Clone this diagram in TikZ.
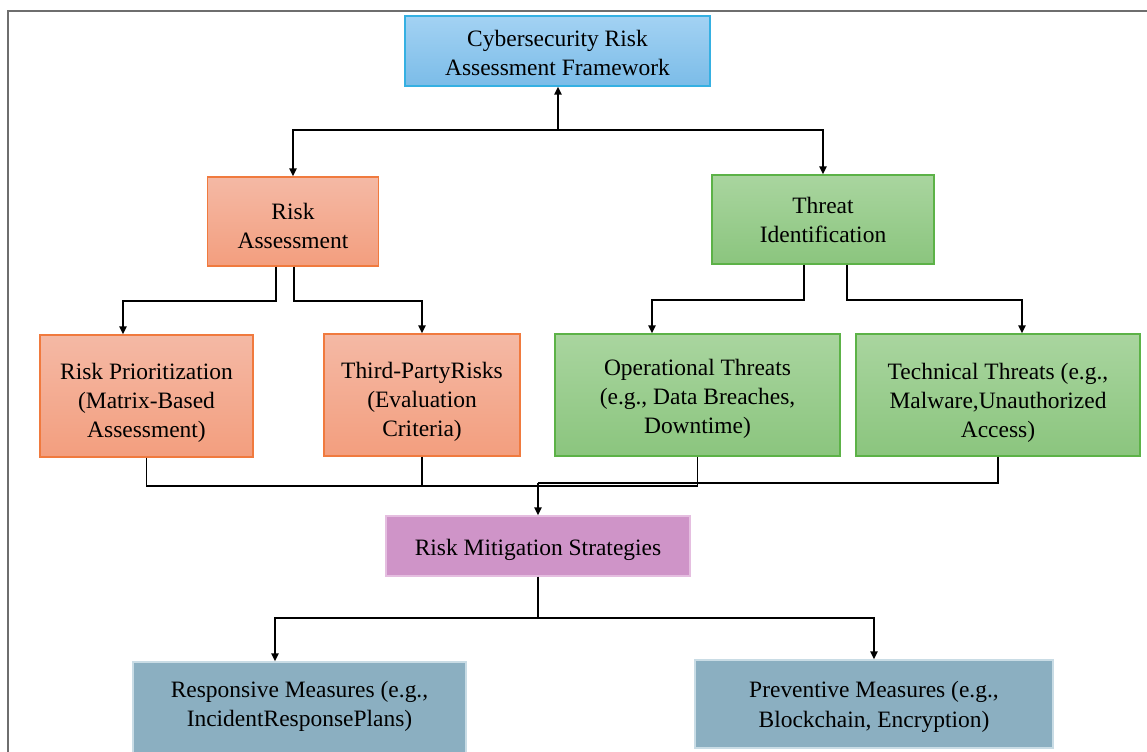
\documentclass[tikz,border=0pt]{standalone}
\usepackage{fontspec}
\setmainfont{Liberation Serif}
\usetikzlibrary{arrows.meta}

\definecolor{frameGray}{RGB}{110,110,110}
\definecolor{blueTop}{RGB}{163,210,243}
\definecolor{blueBot}{RGB}{123,188,232}
\definecolor{blueEdge}{RGB}{53,176,226}
\definecolor{riskTop}{RGB}{244,185,165}
\definecolor{riskBot}{RGB}{243,158,126}
\definecolor{riskEdge}{RGB}{240,122,62}
\definecolor{greenTop}{RGB}{169,213,159}
\definecolor{greenBot}{RGB}{139,197,126}
\definecolor{greenEdge}{RGB}{92,178,71}
\definecolor{mitigFill}{RGB}{207,148,200}
\definecolor{mitigEdge}{RGB}{229,190,224}
\definecolor{steelFill}{RGB}{139,175,193}
\definecolor{steelEdge}{RGB}{201,220,229}

% strut that lowers the text of a box
\newcommand{\vpad}[1]{\rule{0pt}{#1}}

\begin{document}
\begin{tikzpicture}[x=0.75pt,y=0.75pt,yscale=-1,xscale=1,
  box/.style={draw, align=center, inner sep=0.75pt, line width=1.1pt,
    font=\fontsize{17.6}{21.8}\selectfont},
  headbox/.style={box, draw=blueEdge, top color=blueTop, bottom color=blueBot},
  riskbox/.style={box, draw=riskEdge, top color=riskTop, bottom color=riskBot},
  threatbox/.style={box, draw=greenEdge, top color=greenTop, bottom color=greenBot},
  mitigbox/.style={box, draw=mitigEdge, fill=mitigFill},
  measurebox/.style={box, draw=steelEdge, fill=steelFill},
  link/.style={line width=1.3pt, black},
  arr/.style={link, -{Triangle[length=6pt,width=5.5pt]}}]
\useasboundingbox (0,0) rectangle (1147,751);
\clip (0,0) rectangle (1147,751);
% outer frame
\draw [frameGray, line width=0.8pt] (8,760) -- (8,11) -- (1160,11);

% boxes
\node (frame) [headbox, minimum width=228.75pt, minimum height=52.5pt] at (557.5,51) {\vpad{15pt}Cybersecurity Risk\\Assessment Framework};
\node (risk) [riskbox, minimum width=128.25pt, minimum height=66.75pt] at (293,221.5) {\vpad{18.8pt}Risk\\Assessment};
\node (threat) [threatbox, minimum width=166.5pt, minimum height=66.75pt] at (823,219.5) {Threat\\Identification};
\node (prio) [riskbox, minimum width=159.75pt, minimum height=91.5pt] at (146.5,396) {\vpad{22.5pt}Risk Prioritization\\(Matrix-Based\\Assessment)};
\node (third) [riskbox, minimum width=147pt, minimum height=91.5pt] at (422,395) {\vpad{22.5pt}Third-PartyRisks\\(Evaluation\\Criteria)};
\node (oper) [threatbox, minimum width=213.75pt, minimum height=91.5pt] at (697.5,395) {\vpad{18pt}Operational Threats\\(e.g., Data Breaches,\\Downtime)};
\node (tech) [threatbox, minimum width=213pt, minimum height=91.5pt] at (998,395) {\vpad{24pt}Technical Threats (e.g.,\\Malware,Unauthorized\\Access)};
\node (mitig) [mitigbox, minimum width=228pt, minimum height=45pt] at (538,546) {\vpad{18pt}Risk Mitigation Strategies};
\node (resp) [measurebox, minimum width=249.75pt, minimum height=81pt] at (299.5,716) {Responsive Measures (e.g.,\\IncidentResponsePlans)\rule[-18.8pt]{0pt}{1pt}};
\node (prev) [measurebox, minimum width=268.5pt, minimum height=66pt] at (874,704) {\vpad{16.5pt}Preventive Measures (e.g.,\\Blockchain, Encryption)};

% connectors
\coordinate (hubTop) at (558,130);
\draw [arr] (hubTop) -- (hubTop |- frame.south);
\draw [arr] (hubTop) -| (risk.north);
\draw [arr] (hubTop) -| (threat.north);

\draw [arr] ([xshift=-12.75pt]risk.south) -- ++(0,34) -| ([xshift=-17.6pt]prio.north);
\draw [arr] ([xshift=0.75pt]risk.south) -- ++(0,34) -| (third.north);
\draw [arr] ([xshift=-14.25pt]threat.south) -- ++(0,35) -| ([xshift=-34.1pt]oper.north);
\draw [arr] ([xshift=18pt]threat.south) -- ++(0,35) -| ([xshift=18pt]tech.north);

\coordinate (busLow) at (540,486);
\coordinate (busHigh) at (538,483);
\draw [link] (prio.south) -- (prio.south |- busLow) -| (oper.south);
\draw [link] (third.south) -- (third.south |- busLow);
\draw [link] (tech.south) |- (busHigh);
\draw [arr] (busHigh) -- (mitig.north);

\coordinate (hubLow) at (538,618);
\draw [link] (mitig.south) -- (hubLow);
\draw [arr] (hubLow) -| ([xshift=-18.4pt]resp.north);
\draw [arr] (hubLow) -| (prev.north);
\end{tikzpicture}
\end{document}
